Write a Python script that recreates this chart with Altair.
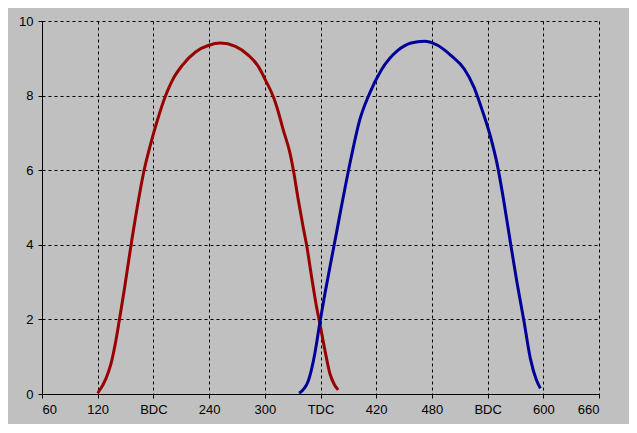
import altair as alt
import pandas as pd

# Red curve (first event)
red_x = [120, 129, 134.4, 139.7, 143.3, 148.6, 154, 156.9, 161.5, 170, 177.2, 184.3, 193.3, 200.4,
         211.1, 225.4, 239.7, 252.2, 268.3, 282.5, 293.3, 300.4, 309.3, 312.9, 320, 327.2,
         330.8, 336.1, 341.5, 345, 350.4, 355.7, 359.2, 364.7, 370.1, 375, 379]
red_y = [0.02, 0.42, 0.82, 1.45, 1.98, 2.79, 3.68, 4.15, 4.85, 6.0, 6.72, 7.34, 8.01, 8.41,
         8.81, 9.17, 9.35, 9.41, 9.32, 9.08, 8.77, 8.43, 7.96, 7.7, 7.07, 6.45,
         6.0, 5.2, 4.45, 4.0, 3.14, 2.34, 1.9, 1.18, 0.55, 0.25, 0.11]

# Blue curve (second event)
blue_x = [337, 346.8, 354, 359.2, 364.7, 371.8, 377.2, 382.5, 393.2, 402.2, 412.9, 425.4, 443.3,
          457.5, 471.9, 486.1, 500.4, 514.7, 525.4, 534.3, 543.2, 550.4, 557.6, 564.7, 571.8,
          579, 586.1, 592.5, 596.8]
blue_y = [0.02, 0.35, 1.1, 1.9, 2.68, 3.62, 4.32, 5.02, 6.36, 7.34, 8.06, 8.68, 9.21,
          9.41, 9.46, 9.35, 9.08, 8.72, 8.22, 7.6, 6.89, 6.15, 5.15, 4.04, 2.97,
          1.98, 0.95, 0.38, 0.15]

tick_values = [60, 120, 180, 240, 300, 360, 420, 480, 540, 600, 660]
tick_labels = ["60", "120", "BDC", "240", "300", "TDC", "420", "480", "BDC", "600", "660"]
y_ticks = [0, 2, 4, 6, 8, 10]

df = pd.concat([
    pd.DataFrame({"angle": red_x, "value": red_y, "series": "red", "order": range(len(red_x))}),
    pd.DataFrame({"angle": blue_x, "value": blue_y, "series": "blue", "order": range(len(blue_x))}),
])

label_expr = " : ".join(
    f"datum.value == {v} ? '{l}'" for v, l in zip(tick_values, tick_labels)
) + " : datum.label"

chart = alt.Chart(df).mark_line(strokeWidth=3, interpolate="monotone").encode(
    x=alt.X("angle:Q", scale=alt.Scale(domain=[60, 660], nice=False, zero=False),
            axis=alt.Axis(values=tick_values, labelExpr=label_expr, title=None,
                          grid=True)),
    y=alt.Y("value:Q", scale=alt.Scale(domain=[0, 10], nice=False),
            axis=alt.Axis(values=y_ticks, title=None, grid=True)),
    color=alt.Color("series:N", scale=alt.Scale(domain=["red", "blue"], range=["#990000", "#000099"]),
                    legend=None),
    detail="series:N",
    order="order:Q",
).properties(
    width=557,
    height=373,
    background="#c0c0c0",
    autosize=alt.AutoSizeParams(type="none"),
    padding={"left": 34, "top": 13, "right": 30, "bottom": 30},
).configure_view(
    stroke=None,
).configure_axis(
    domainColor="#000000",
    domainWidth=1,
    tickColor="#000000",
    tickSize=4,
    labelColor="#000000",
    labelFont="Liberation Sans",
    labelFontSize=13,
    labelPadding=5,
    gridColor="#000000",
    gridDash=[3, 3],
    gridWidth=1,
    gridOpacity=1,
)

chart.save("out.html", embed_options={"renderer": "svg", "actions": False})
